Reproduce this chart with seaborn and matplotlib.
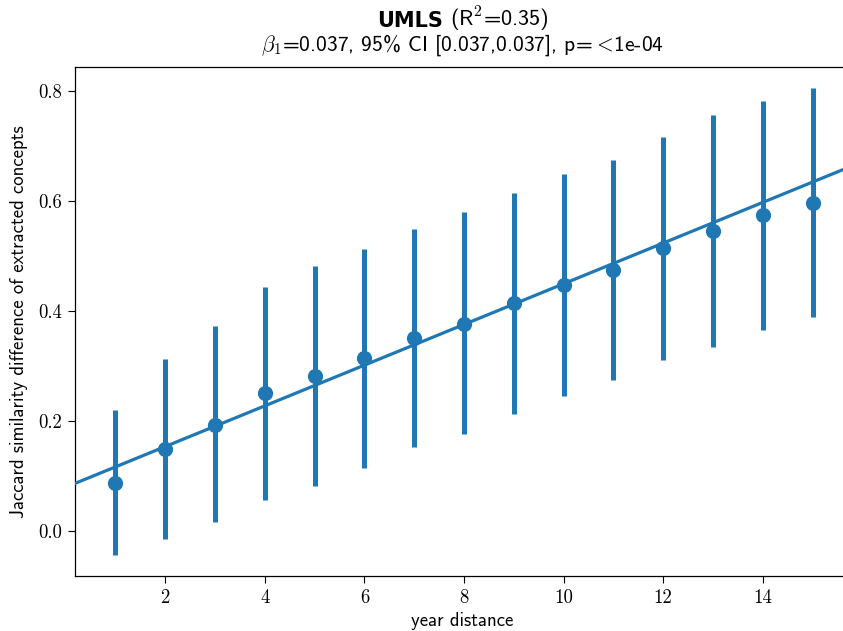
import numpy as np
import pandas as pd
import matplotlib
matplotlib.use("Agg")
import matplotlib.pyplot as plt
import seaborn as sns

# Mean Jaccard difference per year distance, with 95% CI bounds
year_distance = [1, 2, 3, 4, 5, 6, 7, 8, 9, 10, 11, 12, 13, 14, 15]
mean_jaccard = [0.088, 0.149, 0.193, 0.251, 0.282, 0.315, 0.351, 0.376,
                0.415, 0.447, 0.475, 0.515, 0.545, 0.574, 0.597]
ci_low = [-0.044, -0.015, 0.016, 0.056, 0.082, 0.115, 0.153, 0.176,
          0.213, 0.245, 0.275, 0.311, 0.335, 0.365, 0.389]
ci_high = [0.220, 0.313, 0.373, 0.444, 0.482, 0.513, 0.549, 0.580,
           0.615, 0.649, 0.675, 0.716, 0.756, 0.782, 0.805]

# Fitted linear model
slope = 0.037
intercept = 0.0795
r_squared = 0.35
ci_slope = (0.037, 0.037)

xticks = [2, 4, 6, 8, 10, 12, 14]
yticks = [0.0, 0.2, 0.4, 0.6, 0.8]

sns.set_style("ticks")
plt.rcParams.update({
    "mathtext.fontset": "cm",
    "axes.formatter.use_mathtext": True,
    "axes.unicode_minus": False,
    "text.color": "black",
    "axes.labelcolor": "black",
    "xtick.color": "black",
    "ytick.color": "black",
    "axes.edgecolor": "black",
})

color = "#1f77b4"
W, H = 843, 631
fig = plt.figure(figsize=(W / 100, H / 100), dpi=100)
ax = fig.add_axes([75 / W, (H - 576) / H, 775 / W, 509 / H])

df = pd.DataFrame({"x": year_distance, "y": mean_jaccard,
                   "lo": ci_low, "hi": ci_high})

xlim = (0.19, 15.75)
ax.set_xlim(*xlim)
ax.set_ylim(-0.0818, 0.8436)

# confidence intervals
ax.vlines(df["x"], df["lo"], df["hi"], color=color, lw=3.6, zorder=2)
# point estimates
sns.scatterplot(data=df, x="x", y="y", color=color, s=120, linewidth=0,
                ax=ax, zorder=3)
# regression line over the full x range
xs = np.array(xlim)
line_df = pd.DataFrame({"x": xs, "y": intercept + slope * xs})
sns.lineplot(data=line_df, x="x", y="y", color=color, lw=2.3, ax=ax,
             zorder=4)

ax.set_xticks(xticks)
ax.set_yticks(yticks)
ax.set_xticklabels([str(v) for v in xticks])
ax.set_yticklabels(["%.1f" % v for v in yticks])
for lab in ax.get_xticklabels() + ax.get_yticklabels():
    lab.set_fontfamily("cmr10")
    lab.set_fontsize(13.5)
ax.tick_params(length=5, width=0.8, color="black", pad=4.5)

ax.set_xlabel("year distance", fontfamily="cmss10", fontsize=13.5)
ax.set_ylabel("Jaccard similarity difference of extracted concepts",
              fontfamily="cmss10", fontsize=13.5)
ax.xaxis.set_label_coords(0.5, -0.071)
ax.yaxis.set_label_coords(-0.060, 0.5)

for s in ax.spines.values():
    s.set_linewidth(0.9)
    s.set_color("black")

# two-line title
y1 = 1 - 27 / H
y2 = 1 - 51 / H
fig.text(443 / W, y1, "UMLS", fontfamily="DejaVu Sans", fontweight="bold",
         fontsize=15, ha="right", va="baseline")
fig.text(450 / W, y1, r"(R$^{\mathsf{2}}$=%.2f)" % r_squared,
         fontfamily="cmss10", fontsize=16, ha="left", va="baseline")
fig.text(462.5 / W, y2,
         r"$\beta_1$=%.3f, 95%% CI [%.3f,%.3f], p=$\hspace{0.04}<\!$1e-04"
         % (slope, ci_slope[0], ci_slope[1]),
         fontfamily="cmss10", fontsize=15.5, ha="center", va="baseline")

fig.savefig("out.png", dpi=100)
